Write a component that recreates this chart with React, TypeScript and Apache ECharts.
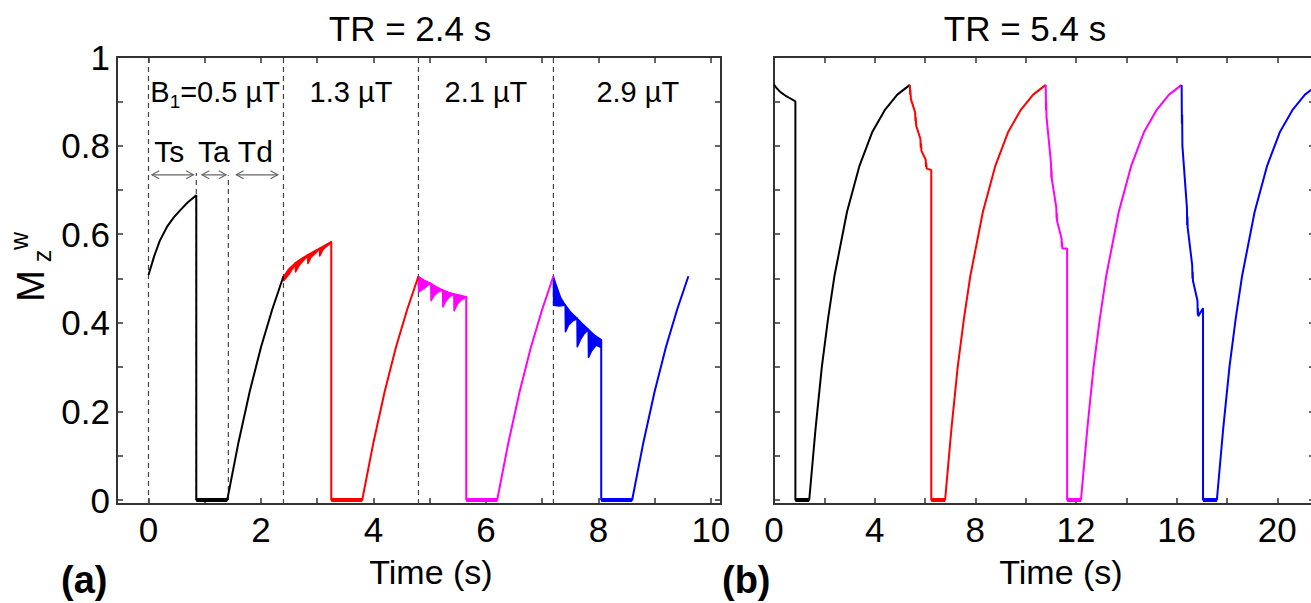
import React, { useEffect, useRef } from "react";
import * as echarts from "echarts";

const FONT = "'Liberation Sans', Arial, Helvetica, sans-serif";
const COLORS = ["#000000", "#ff0000", "#ff00ff", "#0000ff"];

// ---------- axes ----------
const leftXTicks = [0, 1, 2, 3, 4, 5, 6, 7, 8, 9, 10];
const leftXLabels = [0, 2, 4, 6, 8, 10];
const rightXTicks = [0, 2, 4, 6, 8, 10, 12, 14, 16, 18, 20];
const rightXLabels = [0, 4, 8, 12, 16, 20];
const yTicks = [0, 0.1, 0.2, 0.3, 0.4, 0.5, 0.6, 0.7, 0.8, 0.9, 1];
const yLabels = [0, 0.2, 0.4, 0.6, 0.8, 1];

// ---------- texts ----------
const titles = ["TR = 2.4 s", "TR = 5.4 s"];
const xTitle = "Time (s)";
const panelTags = ["(a)", "(b)"];
const b1Labels = ["=0.5 µT", "1.3 µT", "2.1 µT", "2.9 µT"];
const phaseLabels = ["Ts", "Ta", "Td"];

// ---------- left panel (TR = 2.4 s) ----------
// smooth saturation + drop + recovery traces
const leftBlack = [[0, 0.508], [0.1, 0.55], [0.2, 0.585], [0.33, 0.617], [0.45, 0.638], [0.57, 0.655], [0.7, 0.672], [0.85, 0.688], [0.85, 0], [1.4, 0], [1.6, 0.13], [1.8, 0.245], [2.0, 0.345], [2.2, 0.43], [2.4, 0.505]];
const leftRed = [[3.25, 0.583], [3.25, 0], [3.8, 0], [4.0, 0.13], [4.2, 0.245], [4.4, 0.345], [4.6, 0.43], [4.8, 0.505]];
const leftMagenta = [[5.65, 0.459], [5.65, 0], [6.2, 0], [6.4, 0.13], [6.6, 0.245], [6.8, 0.345], [7.0, 0.43], [7.2, 0.505]];
const leftBlue = [[8.05, 0.362], [8.05, 0], [8.6, 0], [8.8, 0.13], [9.0, 0.245], [9.2, 0.345], [9.4, 0.43], [9.6, 0.505]];
// pulse "scallops" during saturation (outline of each oscillating band)
const leftRedBands = [
  [[2.4, 0.504], [2.5, 0.522], [2.61, 0.535], [2.6, 0.53], [2.5, 0.51], [2.405, 0.495]],
  [[2.61, 0.535], [2.72, 0.545], [2.83, 0.553], [2.82, 0.55], [2.75, 0.54], [2.68, 0.53], [2.615, 0.515]],
  [[2.83, 0.553], [2.94, 0.561], [3.04, 0.568], [3.03, 0.566], [2.96, 0.556], [2.89, 0.548], [2.835, 0.534]],
  [[3.04, 0.568], [3.15, 0.576], [3.25, 0.583], [3.24, 0.58], [3.17, 0.573], [3.1, 0.565], [3.045, 0.551]],
];
const leftMagentaBands = [
  [[4.8, 0.504], [4.9, 0.496], [5.02, 0.489], [4.98, 0.486], [4.9, 0.478], [4.805, 0.47]],
  [[5.02, 0.489], [5.12, 0.481], [5.23, 0.474], [5.21, 0.473], [5.15, 0.47], [5.08, 0.462], [5.025, 0.45]],
  [[5.23, 0.474], [5.33, 0.469], [5.43, 0.465], [5.42, 0.464], [5.36, 0.46], [5.29, 0.45], [5.235, 0.436]],
  [[5.43, 0.465], [5.54, 0.462], [5.65, 0.459], [5.64, 0.457], [5.56, 0.452], [5.49, 0.442], [5.435, 0.427]],
];
const leftBlueBands = [
  [[7.2, 0.504], [7.25, 0.485], [7.33, 0.456], [7.41, 0.44], [7.3, 0.438], [7.205, 0.44]],
  [[7.41, 0.44], [7.5, 0.425], [7.62, 0.41], [7.61, 0.408], [7.55, 0.405], [7.47, 0.395], [7.415, 0.38]],
  [[7.62, 0.41], [7.72, 0.397], [7.82, 0.385], [7.81, 0.383], [7.75, 0.376], [7.68, 0.362], [7.625, 0.346]],
  [[7.82, 0.385], [7.93, 0.372], [8.05, 0.362], [8.04, 0.345], [7.96, 0.35], [7.88, 0.337], [7.825, 0.322]],
];
const leftFlats = [[0.85, 1.4], [3.25, 3.8], [5.65, 6.2], [8.05, 8.6]];
const leftBlockStarts = [0, 2.4, 4.8, 7.2];
const leftPhaseMarks = [0.85, 1.42];
const leftPhaseSpans = [[0.06, 0.8], [0.95, 1.38], [1.56, 2.3]];

// ---------- right panel (TR = 5.4 s) ----------
const rightBlack = [[0, 0.938], [0.1, 0.93], [0.2, 0.924], [0.3, 0.919], [0.45, 0.913], [0.6, 0.908], [0.75, 0.903], [0.85, 0.9], [0.85, 0], [1.4, 0], [1.65, 0.16], [1.9, 0.3], [2.15, 0.41], [2.4, 0.505], [2.9, 0.65], [3.4, 0.755], [3.9, 0.83], [4.4, 0.88], [4.9, 0.915], [5.4, 0.937]];
const rightRed = [[5.4, 0.937], [5.41, 0.915], [5.42, 0.925], [5.44, 0.905], [5.61, 0.875], [5.62, 0.855], [5.63, 0.865], [5.65, 0.845], [5.82, 0.815], [5.83, 0.795], [5.84, 0.805], [5.86, 0.788], [6.03, 0.768], [6.04, 0.752], [6.05, 0.76], [6.07, 0.748], [6.25, 0.745], [6.25, 0], [6.8, 0], [7.05, 0.16], [7.3, 0.3], [7.55, 0.41], [7.8, 0.505], [8.3, 0.65], [8.8, 0.755], [9.3, 0.83], [9.8, 0.88], [10.3, 0.915], [10.8, 0.937]];
const rightMagenta = [[10.8, 0.937], [10.81, 0.88], [10.82, 0.9], [10.83, 0.865], [11.01, 0.76], [11.02, 0.728], [11.03, 0.745], [11.04, 0.725], [11.22, 0.66], [11.23, 0.635], [11.24, 0.648], [11.25, 0.63], [11.43, 0.59], [11.44, 0.572], [11.45, 0.582], [11.46, 0.568], [11.65, 0.568], [11.65, 0], [12.2, 0], [12.45, 0.16], [12.7, 0.3], [12.95, 0.41], [13.2, 0.505], [13.7, 0.65], [14.2, 0.755], [14.7, 0.83], [15.2, 0.88], [15.7, 0.915], [16.2, 0.937]];
const rightBlue = [[16.2, 0.937], [16.21, 0.85], [16.22, 0.87], [16.23, 0.8], [16.41, 0.66], [16.42, 0.62], [16.43, 0.64], [16.44, 0.615], [16.62, 0.53], [16.63, 0.5], [16.64, 0.515], [16.65, 0.495], [16.83, 0.45], [16.84, 0.418], [16.85, 0.432], [16.86, 0.415], [17.05, 0.433], [17.05, 0], [17.6, 0], [17.85, 0.16], [18.1, 0.3], [18.35, 0.41], [18.6, 0.505], [19.1, 0.65], [19.6, 0.755], [20.1, 0.83], [20.6, 0.88], [21.1, 0.915], [21.6, 0.937]];
const rightFlats = [[0.85, 1.4], [6.25, 6.8], [11.65, 12.2], [17.05, 17.6]];

// ---------- layout ----------
const Y_MIN = -0.009;
const LEFT_X = [-0.56, 10.18];
const RIGHT_X = [0, 21.5];
const AXIS_COLOR = "#333";
const TICK_FONT = 35;

function makeX(gridIndex: number, range: number[], ticks: number[], labels: number[], position: string, showLabel: boolean) {
  return {
    type: "value",
    gridIndex,
    position,
    min: range[0],
    max: range[1],
    axisLine: { show: true, onZero: false, lineStyle: { color: AXIS_COLOR, width: 2 } },
    axisTick: { show: true, inside: true, length: 6, customValues: ticks, lineStyle: { color: AXIS_COLOR, width: 1.5 } },
    axisLabel: { show: showLabel, customValues: labels, color: "#000", fontSize: TICK_FONT, fontFamily: FONT, margin: 8 },
    splitLine: { show: false },
  };
}
function makeY(gridIndex: number, position: string, showLabel: boolean) {
  return {
    type: "value",
    gridIndex,
    position,
    min: Y_MIN,
    max: 1,
    axisLine: { show: true, onZero: false, lineStyle: { color: AXIS_COLOR, width: 2 } },
    axisTick: { show: true, inside: true, length: 6, customValues: yTicks, lineStyle: { color: AXIS_COLOR, width: 1.5 } },
    axisLabel: { show: showLabel, customValues: yLabels, color: "#000", fontSize: TICK_FONT, fontFamily: FONT, margin: 7 },
    splitLine: { show: false },
  };
}

function curve(data: number[][], color: string, axis: number) {
  return {
    type: "line",
    data,
    xAxisIndex: axis,
    yAxisIndex: axis,
    showSymbol: false,
    symbol: "none",
    lineStyle: { color, width: 2 },
    z: 5,
    silent: true,
  };
}

function bands(polys: number[][][], color: string, axis: number) {
  return {
    type: "custom",
    xAxisIndex: axis,
    yAxisIndex: axis,
    silent: true,
    z: 5,
    data: polys.map((_, i) => [i]),
    renderItem: (params: any, api: any) => {
      const poly = polys[api.value(0)];
      return {
        type: "polygon",
        shape: { points: poly.map((p) => api.coord(p)) },
        style: { fill: color, stroke: color, lineWidth: 1.6, lineJoin: "round" },
      };
    },
  };
}

export default function App() {
  const ref = useRef<HTMLDivElement>(null);
  useEffect(() => {
    if (!ref.current) return;
    const chart = echarts.init(ref.current, null, { renderer: "svg" });

    const dashed = [
      ...leftBlockStarts.map((x) => ({ coords: [[x, Y_MIN], [x, 1]] })),
      { coords: [[leftPhaseMarks[0], 0], [leftPhaseMarks[0], 0.738]] },
      { coords: [[leftPhaseMarks[1], 0], [leftPhaseMarks[1], 0.733]] },
    ];
    const L = 0.734, dx = 0.13, dy = 0.009;
    const arrows: any[] = [];
    leftPhaseSpans.forEach(([a, b]) => {
      arrows.push({ coords: [[a, L], [b, L]] });
      arrows.push({ coords: [[a + dx, L + dy], [a, L], [a + dx, L - dy]] });
      arrows.push({ coords: [[b - dx, L + dy], [b, L], [b - dx, L - dy]] });
    });

    const series: any[] = [
      {
        type: "lines", coordinateSystem: "cartesian2d", xAxisIndex: 0, yAxisIndex: 0, polyline: true,
        data: dashed, lineStyle: { color: "#444", width: 1.2, type: [5, 4], opacity: 1 }, z: 2, silent: true,
      },
      {
        type: "lines", coordinateSystem: "cartesian2d", xAxisIndex: 0, yAxisIndex: 0, polyline: true,
        data: arrows, lineStyle: { color: "#666", width: 1.1, opacity: 1 }, z: 2, silent: true,
      },
      curve(leftBlack, COLORS[0], 0),
      curve(leftRed, COLORS[1], 0),
      curve(leftMagenta, COLORS[2], 0),
      curve(leftBlue, COLORS[3], 0),
      bands(leftRedBands, COLORS[1], 0),
      bands(leftMagentaBands, COLORS[2], 0),
      bands(leftBlueBands, COLORS[3], 0),
      curve(rightBlack, COLORS[0], 2),
      curve(rightRed, COLORS[1], 2),
      curve(rightMagenta, COLORS[2], 2),
      curve(rightBlue, COLORS[3], 2),
      {
        type: "lines", coordinateSystem: "cartesian2d", xAxisIndex: 0, yAxisIndex: 0,
        data: leftFlats.map(([a, b], i) => ({ coords: [[a, 0], [b, 0]], lineStyle: { color: COLORS[i] } })),
        lineStyle: { width: 4, opacity: 1 }, z: 6, silent: true,
      },
      {
        type: "lines", coordinateSystem: "cartesian2d", xAxisIndex: 2, yAxisIndex: 2,
        data: rightFlats.map(([a, b], i) => ({ coords: [[a, 0], [b, 0]], lineStyle: { color: COLORS[i] } })),
        lineStyle: { width: 4, opacity: 1 }, z: 6, silent: true,
      },
    ];

    chart.setOption({
      animation: false,
      backgroundColor: "#fff",
      grid: [
        { left: 117, top: 57, width: 604, height: 447, containLabel: false },
        { left: 774, top: 57, width: 541, height: 447, containLabel: false },
      ],
      xAxis: [
        makeX(0, LEFT_X, leftXTicks, leftXLabels, "bottom", true),
        makeX(0, LEFT_X, leftXTicks, leftXLabels, "top", false),
        makeX(1, RIGHT_X, rightXTicks, rightXLabels, "bottom", true),
        makeX(1, RIGHT_X, rightXTicks, rightXLabels, "top", false),
      ],
      yAxis: [makeY(0, "left", true), makeY(0, "right", false), makeY(1, "left", false), makeY(1, "right", false)],
      series,
    });

    const px = (t: number, v: number) => chart.convertToPixel({ gridIndex: 0 }, [t, v]) as number[];
    const txt = (x: number, y: number, text: string, fontSize: number, extra: any = {}) => ({
      type: "text",
      x,
      y,
      silent: true,
      z: 10,
      style: { text, fontSize, fontFamily: FONT, fill: "#000", align: "center", verticalAlign: "middle", ...extra },
    });

    const graphics: any[] = [];
    graphics.push(txt(410, 28, titles[0], 35));
    graphics.push(txt(1025, 28, titles[1], 35));
    graphics.push(txt(431, 572, xTitle, 34));
    graphics.push(txt(1061, 572, xTitle, 34));
    graphics.push(txt(61, 580, panelTags[0], 38, { align: "left", fontWeight: "bold" }));
    graphics.push(txt(722, 580, panelTags[1], 38, { align: "left", fontWeight: "bold" }));
    // y axis label M_z^w
    graphics.push({ ...txt(31, 286, "M", 38), rotation: Math.PI / 2 });
    graphics.push({ ...txt(42, 256, "z", 25), rotation: Math.PI / 2 });
    graphics.push({ ...txt(19, 241, "w", 25), rotation: Math.PI / 2 });
    // B1 labels
    const b0 = px(0.03, 0.92);
    graphics.push(txt(b0[0], b0[1], "B", 29, { align: "left" }));
    graphics.push(txt(b0[0] + 19.5, b0[1] + 9, "1", 19, { align: "left" }));
    graphics.push(txt(b0[0] + 30, b0[1], b1Labels[0], 29, { align: "left" }));
    [3.6, 6.0, 8.7].forEach((t, i) => {
      const p = px(t, 0.92);
      graphics.push(txt(p[0], p[1], b1Labels[i + 1], 29));
    });
    [0.37, 1.16, 1.9].forEach((t, i) => {
      const p = px(t, 0.786);
      graphics.push(txt(p[0], p[1], phaseLabels[i], 30));
    });
    chart.setOption({ graphic: graphics });

    return () => chart.dispose();
  }, []);

  return (
    <div style={{ position: "fixed", left: 0, top: 0, width: 1311, height: 603, overflow: "hidden", background: "#fff" }}>
      <div ref={ref} style={{ width: 1330, height: 603 }} />
    </div>
  );
}
